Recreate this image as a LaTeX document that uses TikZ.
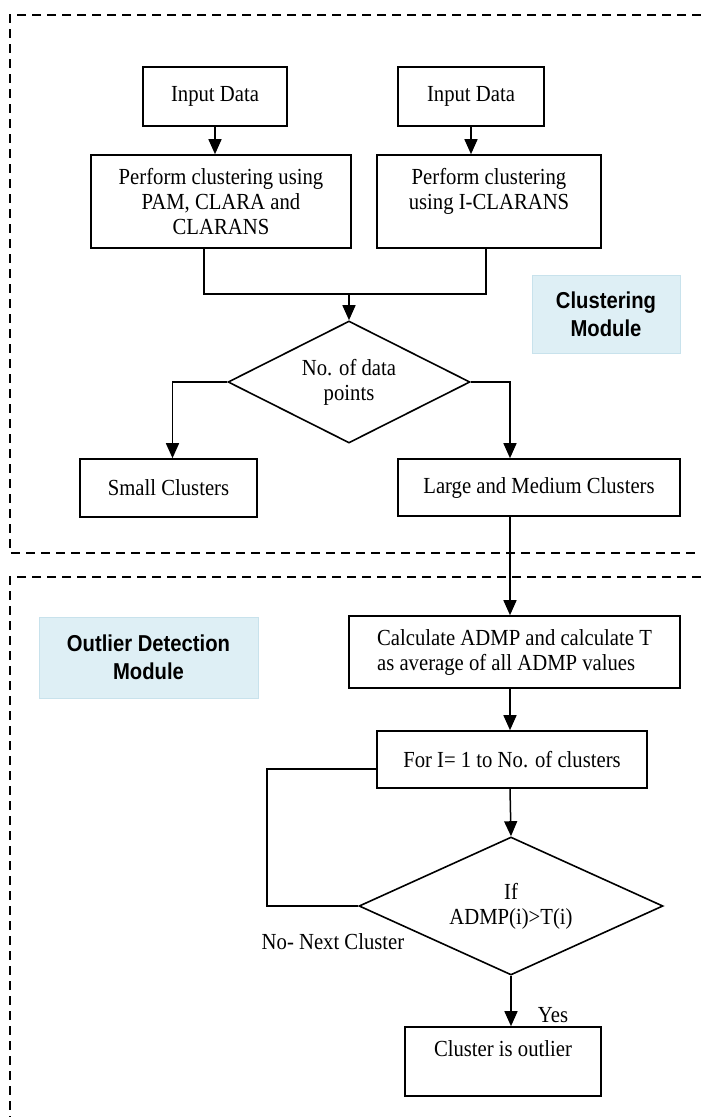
\documentclass[tikz,border=0pt]{standalone}
\usepackage{fontspec}
\setmainfont{Liberation Serif}[FakeStretch=0.9]
\newfontfamily\modfont[FakeStretch=0.88]{Liberation Sans}
\usetikzlibrary{arrows.meta,shapes.geometric}
\definecolor{modfill}{RGB}{222,239,245}
\definecolor{modline}{RGB}{200,226,236}
\begin{document}
\begin{tikzpicture}[x=1pt,y=-1pt,
    box/.style={draw,line width=1.6pt,rectangle,inner sep=0pt,align=center,
        font=\fontsize{23}{25}\selectfont},
    decision/.style={draw,line width=1.6pt,diamond,aspect=2,inner sep=0pt,
        align=center,font=\fontsize{23}{25}\selectfont},
    module/.style={draw=modline,line width=1pt,fill=modfill,inner sep=0pt,
        align=center,font=\modfont\bfseries\fontsize{23}{28}\selectfont},
    arr/.style={line width=1.5pt,-{Triangle[length=15pt,width=13pt]}},
    link/.style={line width=1.5pt},
    border/.style={line width=1.2pt,dash pattern=on 9pt off 6pt},
    tag/.style={font=\fontsize{23}{25}\selectfont}]
    \useasboundingbox (0,0) rectangle (701,1117);

    % module borders
    \draw[border] (701,15) -- (10,15) -- (10,553) -- (701,553);
    \draw[border] (701,577) -- (10,577) -- (10,1117);

    % clustering module
    \node[box,minimum width=144pt,minimum height=59pt] (in1) at (215,96.5) {Input Data};
    \node[box,minimum width=146pt,minimum height=59pt] (in2) at (471,96.5) {Input Data};
    \node[box,minimum width=260pt,minimum height=93pt] (pam) at (221,201.5)
        {Perform clustering using\\PAM, CLARA and\\CLARANS};
    \node[box,minimum width=224pt,minimum height=93pt] (icl) at (489,201.5)
        {Perform clustering\\using I-CLARANS\\\mbox{}};
    \coordinate (join) at (349,294);
    \node[decision,minimum width=242pt,minimum height=122pt] (dec) at (349,382)
        {No. of data\\points};
    \node[box,minimum width=177pt,minimum height=58pt] (small) at (168.5,488) {Small Clusters};
    \node[box,minimum width=282pt,minimum height=57pt] (large) at (539,487.5)
        {Large and Medium Clusters};
    \node[module,minimum width=148pt,minimum height=78pt] (mod1) at (606,314)
        {Clustering\\Module};

    % outlier detection module
    \coordinate (spine) at (510,0);
    \node[module,minimum width=219pt,minimum height=81pt] (mod2) at (148.5,657.5)
        {Outlier Detection\\Module};
    \node[box,minimum width=331pt,minimum height=72pt,align=left] (calc) at (514.5,652)
        {Calculate ADMP and calculate T\\as average of all ADMP values};
    \node[box,minimum width=270pt,minimum height=57pt] (for) at (512,759.5)
        {For I= 1 to No. of clusters};
    \node[decision,minimum width=304pt,minimum height=138pt] (ifd) at (511,906)
        {If\\ADMP(i)>T(i)};
    \node[box,minimum width=196pt,minimum height=69pt] (out) at (503,1061.5)
        {Cluster is outlier\\\mbox{}};
    \node[tag] (nolbl) at (333,942) {No- Next Cluster};
    \node[tag] (yeslbl) at (553,1015) {Yes};

    % connectors
    \draw[arr] (in1.south) -- (in1.south |- pam.north);
    \draw[arr] (in2.south) -- (in2.south |- icl.north);
    \draw[link] ([xshift=-17pt]pam.south) |- (join) -| ([xshift=-3pt]icl.south);
    \draw[arr] (join) -- (dec.north);
    \draw[arr] (dec.west) -| ([xshift=4pt]small.north);
    \draw[arr] (dec.east) -| (spine |- large.north);
    \draw[arr] (spine |- large.south) -- (spine |- calc.north);
    \draw[arr] (spine |- calc.south) -- (spine |- for.north);
    \draw[arr] (spine |- for.south) -- (ifd.north);
    \draw[arr] (ifd.south) -- (ifd.south |- out.north);
    \draw[link] (ifd.west) -- ++(-91,0) |- ([yshift=-9.5pt]for.west);
\end{tikzpicture}
\end{document}
